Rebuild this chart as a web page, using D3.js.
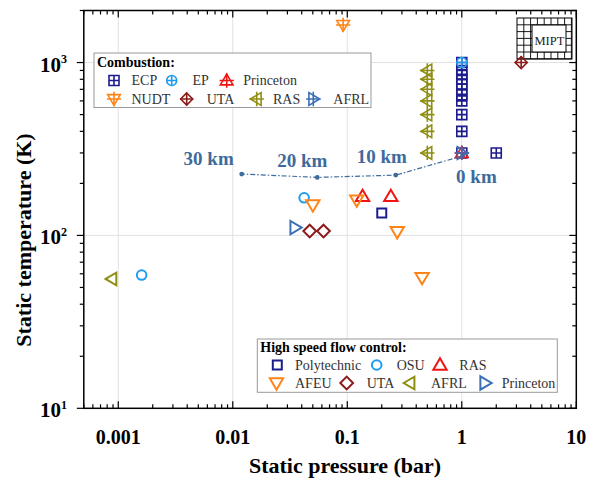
<!DOCTYPE html>
<html><head><meta charset="utf-8">
<script src="https://cdn.jsdelivr.net/npm/d3@7"></script>
<style>body{margin:0;background:#fff}svg{display:block}text{font-family:"Liberation Serif","Times New Roman",serif}</style>
</head><body>
<svg id="c" width="589" height="486"></svg>
<script>
// ---------------- data ----------------
const xTickValues = [0.001, 0.01, 0.1, 1, 10];
const xTickLabels = ["0.001", "0.01", "0.1", "1", "10"];
const yTickValues = [10, 100, 1000];
const yTickExponents = ["1", "2", "3"];

const altitudeLabels = ["0 km", "10 km", "20 km", "30 km"];
const altitudeP = [1.01325, 0.265, 0.0547, 0.01197];
const altitudeT = [288.15, 223.25, 216.65, 226.5];

const combECP = [[1,300],[1,400],[1,500],[1,600],[1,650],[1,700],[1,750],[1,800],[1,850],[1,900],[1,1000],[2,300]];
const combEP = [[1,1000]];
const combPrinceton = [[1,300]];
const combNUDT = [[0.092,1650]];
const combUTA = [[3.3,1000]];
const combRAS = [[0.5,300],[0.5,400],[0.5,500],[0.5,600],[0.5,700],[0.5,800],[0.5,900]];
const combAFRL = [[1,300]];

const hsPolytechnic = [[0.2,135]];
const hsOSU = [[0.042,165],[0.0016,59]];
const hsRAS = [[0.136,168],[0.24,168]];
const hsAFEU = [[0.05,150],[0.121,160],[0.273,105],[0.45,57]];
const hsUTA = [[0.047,106],[0.062,106]];
const hsAFRL = [[0.00088,56]];
const hsPrinceton = [[0.035,111]];

const combNames = ["ECP","EP","Princeton","NUDT","UTA","RAS","AFRL"];
const hsNames = ["Polytechnic","OSU","RAS","AFEU","UTA","AFRL","Princeton"];

// ---------------- styles / layout ----------------
const C = {navy:"#1c1c8f", sky:"#1e9cf0", red:"#f01414", orange:"#ff8418", maroon:"#8b1a1a", olive:"#8e8e12", blue:"#3a6fb5"};
const combSeries = [
  {data:combECP, shape:"square", color:C.navy},
  {data:combEP, shape:"circle", color:C.sky},
  {data:combPrinceton, shape:"up", color:C.red},
  {data:combNUDT, shape:"down", color:C.orange},
  {data:combUTA, shape:"diamond", color:C.maroon},
  {data:combRAS, shape:"left", color:C.olive},
  {data:combAFRL, shape:"right", color:C.blue}
];
const hsSeries = [
  {data:hsPolytechnic, shape:"square", color:C.navy},
  {data:hsOSU, shape:"circle", color:C.sky},
  {data:hsRAS, shape:"up", color:C.red},
  {data:hsAFEU, shape:"down", color:C.orange},
  {data:hsUTA, shape:"diamond", color:C.maroon},
  {data:hsAFRL, shape:"left", color:C.olive},
  {data:hsPrinceton, shape:"right", color:C.blue}
];

const svg = d3.select("#c");
const X0 = 83.8, X1 = 576.3, Y0 = 408.3, Y1 = 10.5;
const x = d3.scaleLog().domain([0.0005, 10]).range([X0, X1]);
const y = d3.scaleLog().domain([10, 2000]).range([Y0, Y1]);

// marker geometry
function shapePath(shape, s) {
  const p = d3.path();
  if (shape === "square") { p.rect(-s, -s, 2*s, 2*s); }
  else if (shape === "circle") { p.arc(0, 0, s, 0, 2*Math.PI); p.closePath(); }
  else {
    let pts;
    const a = 1.15*s, b = 0.8*s;
    if (shape === "up") pts = [[0,-a],[a,b],[-a,b]];
    if (shape === "down") pts = [[0,a],[a,-b],[-a,-b]];
    if (shape === "left") pts = [[-a,0],[b,-a],[b,a]];
    if (shape === "right") pts = [[a,0],[-b,-a],[-b,a]];
    if (shape === "diamond") { const d = 1.2*s; pts = [[0,-d],[d,0],[0,d],[-d,0]]; }
    p.moveTo(pts[0][0], pts[0][1]);
    pts.slice(1).forEach(q => p.lineTo(q[0], q[1]));
    p.closePath();
  }
  return p.toString();
}
function crossPath(shape, s) {
  const e = (shape === "square" || shape === "circle") ? s : 1.3*s;
  return `M${-e},0H${e}M0,${-e}V${e}`;
}
function drawMarker(g, shape, color, s, withCross, sw) {
  g.append("path").attr("d", shapePath(shape, s)).attr("fill", "none")
    .attr("stroke", color).attr("stroke-width", sw);
  if (withCross) g.append("path").attr("d", crossPath(shape, s)).attr("fill", "none")
    .attr("stroke", color).attr("stroke-width", sw);
}
const combSize = {square:5, circle:5, up:5.5, down:5.5, diamond:5, left:5.5, right:5.5};
const hsSize = {square:4.5, circle:4.8, up:5.8, down:5.8, diamond:5.3, left:5.5, right:5.8};

// grid
const gGrid = svg.append("g").attr("stroke", "#e2e2e2").attr("stroke-width", 1);
[0.001, 0.01, 0.1, 1].forEach(v => gGrid.append("line").attr("x1", x(v)).attr("x2", x(v)).attr("y1", Y0).attr("y2", Y1));
[100, 1000].forEach(v => gGrid.append("line").attr("y1", y(v)).attr("y2", y(v)).attr("x1", X0).attr("x2", X1));

// ticks
const gT = svg.append("g").attr("stroke", "#000").attr("stroke-width", 1.2);
const xt = x.ticks().filter(v => v >= 0.0005 && v <= 10);
xt.forEach(v => {
  const major = xTickValues.some(m => Math.abs(m - v) / m < 1e-6);
  const L = major ? 7 : 4;
  gT.append("line").attr("x1", x(v)).attr("x2", x(v)).attr("y1", Y0).attr("y2", Y0 - L);
  gT.append("line").attr("x1", x(v)).attr("x2", x(v)).attr("y1", Y1).attr("y2", Y1 + L);
});
const yt = y.ticks().filter(v => v >= 10 && v <= 2000);
yt.forEach(v => {
  const major = yTickValues.some(m => Math.abs(m - v) / m < 1e-6);
  const L = major ? 7 : 4;
  gT.append("line").attr("y1", y(v)).attr("y2", y(v)).attr("x1", X0).attr("x2", X0 - L);
  gT.append("line").attr("y1", y(v)).attr("y2", y(v)).attr("x1", X1).attr("x2", X1 - L);
});
// frame
svg.append("rect").attr("x", X0).attr("y", Y1).attr("width", X1 - X0).attr("height", Y0 - Y1)
  .attr("fill", "none").attr("stroke", "#000").attr("stroke-width", 1.5);

// tick labels
xTickValues.forEach((v, i) => {
  svg.append("text").attr("x", x(v)).attr("y", 444).attr("text-anchor", "middle")
    .attr("font-size", 20).attr("font-weight", "bold").text(xTickLabels[i]);
});
yTickValues.forEach((v, i) => {
  const t = svg.append("text").attr("x", 67).attr("y", y(v) + 9).attr("text-anchor", "end")
    .attr("font-size", 21).attr("font-weight", "bold");
  t.append("tspan").text("10");
  t.append("tspan").attr("dy", -8.5).attr("font-size", 12).text(yTickExponents[i]);
});
// axis titles
svg.append("text").attr("x", (X0 + X1) / 2 + 15).attr("y", 473).attr("text-anchor", "middle")
  .attr("font-size", 22).attr("font-weight", "bold").text("Static pressure (bar)");
svg.append("text").attr("transform", `translate(31,${240}) rotate(-90)`).attr("text-anchor", "middle")
  .attr("font-size", 22).attr("font-weight", "bold").text("Static temperature (K)");

// MIPT box
const mx0 = 517, mx1 = 572, my0 = 18, my1 = 59;
const gM = svg.append("g");
gM.append("rect").attr("x", mx0).attr("y", my0).attr("width", mx1 - mx0).attr("height", my1 - my0)
  .attr("fill", "#fff").attr("stroke", "#000").attr("stroke-width", 1);
for (let xx = mx0 + 6.8; xx < mx1; xx += 6.8) gM.append("line").attr("x1", xx).attr("x2", xx).attr("y1", my0).attr("y2", my1).attr("stroke", "#000").attr("stroke-width", 0.9);
for (let yy = my0 + 6.8; yy < my1; yy += 6.8) gM.append("line").attr("y1", yy).attr("y2", yy).attr("x1", mx0).attr("x2", mx1).attr("stroke", "#000").attr("stroke-width", 0.9);
gM.append("rect").attr("x", 532).attr("y", 25).attr("width", 34).attr("height", 27)
  .attr("fill", "#fff").attr("stroke", "#000").attr("stroke-width", 1);
gM.append("text").attr("x", 534.5).attr("y", 45).attr("font-size", 12.5).attr("fill", "#222").text("MIPT");

// altitude line
const altPts = altitudeP.map((p, i) => [p, altitudeT[i]]);
const line = d3.line().x(d => x(d[0])).y(d => y(d[1]));
const altColor = "#3d6b9c";
svg.append("path").attr("d", line(altPts)).attr("fill", "none").attr("stroke", altColor)
  .attr("stroke-width", 1.2).attr("stroke-dasharray", "5,2,1.5,2");
svg.selectAll(".altdot").data(altPts).enter().append("circle")
  .attr("cx", d => x(d[0])).attr("cy", d => y(d[1])).attr("r", 2.4).attr("fill", altColor);
const altLabelOffset = [[14, 27.5, "middle"], [-14, -12.5, "middle"], [-15, -10.5, "middle"], [-8, -9, "end"]];
altPts.forEach((d, i) => {
  const o = altLabelOffset[i];
  svg.append("text").attr("x", x(d[0]) + o[0]).attr("y", y(d[1]) + o[1]).attr("text-anchor", o[2])
    .attr("font-size", 19).attr("font-weight", "bold").attr("fill", altColor).text(altitudeLabels[i]);
});

// high speed flow control points
hsSeries.forEach(s => s.data.forEach(d => {
  const g = svg.append("g").attr("transform", `translate(${x(d[0])},${y(d[1])})`);
  drawMarker(g, s.shape, s.color, hsSize[s.shape], false, 2);
}));
// combustion points
combSeries.forEach(s => s.data.forEach(d => {
  const g = svg.append("g").attr("transform", `translate(${x(d[0])},${y(d[1])})`);
  drawMarker(g, s.shape, s.color, combSize[s.shape], true, 1.6);
}));

// legends
function legend(box, title, titleY, items, series, sizes, cross, sw) {
  const g = svg.append("g");
  g.append("rect").attr("x", box[0]).attr("y", box[1]).attr("width", box[2] - box[0]).attr("height", box[3] - box[1])
    .attr("fill", "#fff").attr("stroke", "#999").attr("stroke-width", 1);
  g.append("text").attr("x", box[0] + 3).attr("y", titleY).attr("font-size", 14).attr("font-weight", "bold").text(title);
  items.forEach((it, i) => {
    const s = series[i];
    const mg = g.append("g").attr("transform", `translate(${it[0]},${it[1]})`);
    drawMarker(mg, s.shape, s.color, sizes[s.shape], cross, sw);
    g.append("text").attr("x", it[2]).attr("y", it[1] + 4.5).attr("font-size", 14).attr("fill", "#333").text(it[3]);
  });
}
legend([94, 53, 371, 107.5], "Combustion:", 66.5,
  [[114, 80.5, 131.5, combNames[0]], [171.7, 80.5, 192.5, combNames[1]], [226.7, 80.5, 243.3, combNames[2]],
   [114, 99, 131.5, combNames[3]], [186.7, 99, 206.7, combNames[4]], [256.7, 99, 273, combNames[5]], [313.3, 99, 333.3, combNames[6]]],
  combSeries, combSize, true, 1.6);
legend([257.3, 339, 557.3, 392.3], "High speed flow control:", 351.7,
  [[277.3, 365, 295, hsNames[0]], [376.7, 365, 396.7, hsNames[1]], [440, 365, 459.3, hsNames[2]],
   [276.5, 383, 295, hsNames[3]], [346.7, 383, 366.7, hsNames[4]], [410, 383, 431, hsNames[5]], [485, 383, 501.7, hsNames[6]]],
  hsSeries, hsSize, false, 2);
</script>
</body></html>
